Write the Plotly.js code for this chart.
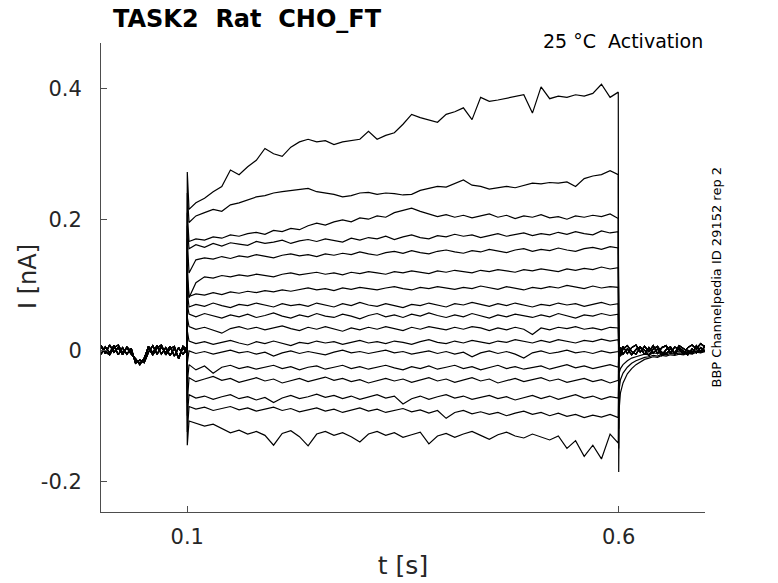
<!DOCTYPE html>
<html>
<head>
<meta charset="utf-8">
<script src="https://cdn.plot.ly/plotly-3.0.1.min.js"></script>
<style>html,body{margin:0;padding:0;background:#fff;}#chart{width:778px;height:583px;}</style>
</head>
<body>
<div id="chart"></div>
<script>
// ---- time grids (s) ----
var tPre = [0, 0.005, 0.01, 0.015, 0.02, 0.025, 0.03, 0.035, 0.04, 0.045, 0.05, 0.055, 0.06, 0.065, 0.07, 0.075, 0.08, 0.085, 0.09, 0.095, 0.0995];
var tOn = 0.1;
var tStep = [0.102, 0.11, 0.12, 0.13, 0.14, 0.15, 0.16, 0.17, 0.18, 0.19, 0.20, 0.21, 0.22, 0.23, 0.24, 0.25, 0.26, 0.27, 0.28, 0.29, 0.30, 0.31, 0.32, 0.33, 0.34, 0.35, 0.36, 0.37, 0.38, 0.39, 0.40, 0.41, 0.42, 0.43, 0.44, 0.45, 0.46, 0.47, 0.48, 0.49, 0.50, 0.51, 0.52, 0.53, 0.54, 0.55, 0.56, 0.57, 0.58, 0.59, 0.5995];
var tOff = 0.6;
var tPost = [0.6005, 0.602, 0.605, 0.61, 0.615, 0.62, 0.625, 0.63, 0.635, 0.64, 0.645, 0.65, 0.655, 0.66, 0.665, 0.67, 0.675, 0.68, 0.685, 0.69, 0.695, 0.70];

// ---- holding-current baselines (nA) ----
var preA = [0.006, -0.005, 0.008, -0.003, 0.004, -0.007, 0.005, -0.002, -0.016, -0.020, -0.014, 0.006, -0.004, 0.007, -0.006, 0.004, -0.008, 0.003, -0.012, 0.006, 0.001];
var preB = [-0.006, 0.005, -0.004, 0.007, -0.007, 0.004, -0.006, 0.003, -0.020, -0.015, -0.019, -0.003, 0.007, -0.006, 0.005, -0.004, 0.006, -0.009, 0.004, -0.007, 0.004];
var preC = [0.007, -0.002, -0.007, 0.004, 0.008, -0.004, 0.004, -0.006, -0.013, -0.022, -0.012, 0.003, -0.007, 0.003, 0.008, -0.007, 0.002, 0.006, -0.013, 0.004, -0.005];

var postA = [0.007, -0.004, 0.006, -0.005, 0.004, 0.008, -0.003, 0.006, -0.002, 0.007, -0.005, 0.004, 0.007, -0.004, 0.005, 0.001, -0.006, 0.004, 0.008, 0.002, 0.010, 0.005];
var postB = [-0.007, 0.004, -0.006, 0.002, -0.007, 0.001, 0.005, -0.007, 0.004, -0.004, 0.002, -0.008, 0.001, 0.005, -0.006, 0.004, -0.002, -0.007, 0.002, -0.004, 0.004, -0.002];
var postC = [0.001, -0.009, 0.002, 0.007, -0.002, -0.006, 0.004, 0.000, -0.008, 0.002, 0.006, -0.004, -0.006, 0.002, -0.004, 0.007, 0.002, -0.002, -0.005, 0.007, -0.003, 0.007];
var tail1 = [-0.090, -0.065, -0.050, -0.036, -0.028, -0.022, -0.018, -0.014, -0.012, -0.010, -0.011, -0.008, -0.009, -0.007, -0.008, -0.006, -0.007, -0.005, -0.006, -0.003, -0.004, -0.002];
var tail2 = [-0.060, -0.045, -0.035, -0.026, -0.020, -0.016, -0.013, -0.011, -0.010, -0.008, -0.009, -0.006, -0.007, -0.005, -0.006, -0.004, -0.005, -0.003, -0.004, -0.001, -0.003, -0.001];
var tail3 = [-0.035, -0.028, -0.022, -0.016, -0.012, -0.010, -0.008, -0.006, -0.007, -0.004, -0.005, -0.003, -0.004, -0.002, -0.004, -0.001, -0.003, 0.000, -0.002, 0.001, -0.001, 0.002];

// ---- step currents, one array per sweep (nA) ----
var sweep01 = [0.215, 0.225, 0.232, 0.242, 0.250, 0.275, 0.268, 0.280, 0.290, 0.308, 0.300, 0.296, 0.310, 0.318, 0.322, 0.318, 0.320, 0.314, 0.318, 0.320, 0.322, 0.334, 0.322, 0.328, 0.332, 0.345, 0.360, 0.355, 0.352, 0.348, 0.360, 0.364, 0.370, 0.352, 0.386, 0.380, 0.382, 0.385, 0.387, 0.390, 0.362, 0.402, 0.384, 0.388, 0.386, 0.390, 0.388, 0.392, 0.406, 0.386, 0.394];
var sweep02 = [0.195, 0.205, 0.210, 0.215, 0.212, 0.222, 0.225, 0.230, 0.234, 0.236, 0.240, 0.242, 0.244, 0.246, 0.247, 0.242, 0.240, 0.238, 0.234, 0.236, 0.240, 0.241, 0.238, 0.240, 0.239, 0.237, 0.238, 0.244, 0.247, 0.250, 0.249, 0.254, 0.260, 0.252, 0.250, 0.246, 0.248, 0.250, 0.248, 0.252, 0.255, 0.254, 0.256, 0.255, 0.257, 0.250, 0.262, 0.266, 0.268, 0.274, 0.268];
var sweep03 = [0.166, 0.170, 0.168, 0.173, 0.171, 0.176, 0.174, 0.178, 0.180, 0.177, 0.183, 0.181, 0.186, 0.184, 0.190, 0.194, 0.191, 0.196, 0.199, 0.196, 0.202, 0.200, 0.205, 0.203, 0.210, 0.213, 0.217, 0.212, 0.208, 0.204, 0.207, 0.203, 0.206, 0.202, 0.205, 0.208, 0.203, 0.206, 0.201, 0.205, 0.203, 0.207, 0.202, 0.204, 0.200, 0.205, 0.203, 0.206, 0.204, 0.208, 0.201];
var sweep04 = [0.155, 0.161, 0.157, 0.163, 0.159, 0.164, 0.162, 0.160, 0.166, 0.163, 0.165, 0.168, 0.163, 0.167, 0.169, 0.166, 0.170, 0.167, 0.165, 0.171, 0.168, 0.172, 0.170, 0.174, 0.169, 0.173, 0.176, 0.172, 0.170, 0.175, 0.173, 0.177, 0.174, 0.176, 0.172, 0.175, 0.178, 0.174, 0.177, 0.179, 0.175, 0.178, 0.176, 0.180, 0.177, 0.181, 0.178, 0.176, 0.182, 0.179, 0.181];
var sweep05 = [0.118, 0.138, 0.141, 0.139, 0.143, 0.140, 0.144, 0.142, 0.146, 0.143, 0.141, 0.145, 0.147, 0.144, 0.146, 0.143, 0.147, 0.145, 0.148, 0.146, 0.150, 0.147, 0.145, 0.149, 0.151, 0.148, 0.152, 0.149, 0.147, 0.151, 0.153, 0.150, 0.148, 0.152, 0.150, 0.154, 0.151, 0.149, 0.153, 0.155, 0.151, 0.154, 0.152, 0.156, 0.153, 0.151, 0.155, 0.157, 0.154, 0.158, 0.156];
var sweep06 = [0.080, 0.103, 0.112, 0.110, 0.114, 0.112, 0.115, 0.113, 0.116, 0.114, 0.112, 0.116, 0.118, 0.115, 0.117, 0.119, 0.116, 0.118, 0.115, 0.119, 0.117, 0.120, 0.118, 0.116, 0.120, 0.118, 0.121, 0.119, 0.117, 0.121, 0.119, 0.122, 0.120, 0.118, 0.122, 0.120, 0.123, 0.121, 0.119, 0.123, 0.121, 0.124, 0.122, 0.120, 0.124, 0.122, 0.125, 0.123, 0.127, 0.124, 0.126];
var sweep07 = [0.082, 0.086, 0.084, 0.088, 0.085, 0.089, 0.087, 0.090, 0.088, 0.091, 0.089, 0.092, 0.090, 0.093, 0.095, 0.092, 0.094, 0.091, 0.095, 0.093, 0.096, 0.094, 0.092, 0.095, 0.097, 0.094, 0.092, 0.096, 0.094, 0.097, 0.095, 0.093, 0.096, 0.094, 0.098, 0.095, 0.093, 0.097, 0.095, 0.092, 0.096, 0.094, 0.097, 0.095, 0.099, 0.096, 0.094, 0.098, 0.095, 0.097, 0.096];
var sweep08 = [0.066, 0.070, 0.067, 0.072, 0.068, 0.065, 0.070, 0.068, 0.072, 0.069, 0.066, 0.071, 0.068, 0.070, 0.067, 0.072, 0.069, 0.066, 0.071, 0.068, 0.073, 0.069, 0.067, 0.071, 0.068, 0.065, 0.070, 0.068, 0.072, 0.069, 0.066, 0.071, 0.069, 0.073, 0.070, 0.067, 0.071, 0.068, 0.072, 0.069, 0.066, 0.070, 0.068, 0.072, 0.069, 0.071, 0.067, 0.070, 0.073, 0.069, 0.071];
var sweep09 = [0.055, 0.051, 0.056, 0.052, 0.049, 0.054, 0.051, 0.055, 0.050, 0.053, 0.057, 0.052, 0.049, 0.054, 0.051, 0.056, 0.052, 0.050, 0.055, 0.052, 0.048, 0.053, 0.056, 0.051, 0.054, 0.050, 0.055, 0.052, 0.057, 0.053, 0.050, 0.054, 0.051, 0.056, 0.052, 0.049, 0.054, 0.051, 0.055, 0.052, 0.050, 0.054, 0.051, 0.056, 0.053, 0.049, 0.054, 0.052, 0.056, 0.053, 0.055];
var sweep10 = [0.036, 0.032, 0.035, 0.030, 0.026, 0.033, 0.036, 0.032, 0.035, 0.031, 0.034, 0.037, 0.033, 0.030, 0.035, 0.032, 0.036, 0.033, 0.029, 0.034, 0.031, 0.035, 0.032, 0.036, 0.033, 0.030, 0.035, 0.032, 0.036, 0.033, 0.031, 0.035, 0.032, 0.036, 0.034, 0.030, 0.034, 0.031, 0.035, 0.032, 0.024, 0.034, 0.031, 0.035, 0.033, 0.036, 0.032, 0.034, 0.031, 0.035, 0.034];
var sweep11 = [0.014, 0.010, 0.013, 0.009, 0.012, 0.015, 0.011, 0.008, 0.013, 0.010, 0.014, 0.011, 0.007, 0.012, 0.010, 0.014, 0.011, 0.013, 0.009, 0.012, 0.015, 0.011, 0.013, 0.010, 0.014, 0.012, 0.009, 0.013, 0.016, 0.012, 0.010, 0.014, 0.011, 0.015, 0.013, 0.010, 0.014, 0.012, 0.016, 0.013, 0.011, 0.015, 0.012, 0.016, 0.013, 0.011, 0.015, 0.013, 0.017, 0.014, 0.016];
var sweep12 = [-0.001, -0.005, -0.002, -0.006, -0.003, 0.000, -0.004, -0.002, -0.006, -0.003, -0.009, -0.004, -0.001, -0.005, -0.002, -0.004, -0.007, -0.003, 0.000, -0.004, -0.002, -0.005, -0.003, 0.000, -0.004, -0.002, -0.006, -0.003, -0.001, -0.005, -0.002, -0.006, -0.003, -0.010, -0.004, -0.001, -0.005, -0.002, -0.006, -0.012, -0.004, -0.001, -0.005, -0.003, 0.000, -0.004, -0.002, -0.005, -0.001, -0.004, -0.002];
var sweep13 = [-0.022, -0.030, -0.024, -0.035, -0.026, -0.023, -0.028, -0.025, -0.029, -0.026, -0.023, -0.028, -0.025, -0.030, -0.026, -0.024, -0.029, -0.026, -0.023, -0.028, -0.025, -0.029, -0.026, -0.023, -0.027, -0.030, -0.025, -0.028, -0.024, -0.029, -0.026, -0.023, -0.028, -0.025, -0.030, -0.026, -0.023, -0.028, -0.025, -0.029, -0.026, -0.024, -0.029, -0.025, -0.022, -0.027, -0.024, -0.028, -0.025, -0.022, -0.026];
var sweep14 = [-0.042, -0.048, -0.044, -0.040, -0.046, -0.043, -0.049, -0.045, -0.042, -0.047, -0.044, -0.050, -0.046, -0.043, -0.048, -0.045, -0.041, -0.046, -0.043, -0.048, -0.045, -0.050, -0.046, -0.043, -0.047, -0.044, -0.049, -0.046, -0.042, -0.047, -0.044, -0.049, -0.045, -0.042, -0.047, -0.044, -0.050, -0.046, -0.043, -0.048, -0.045, -0.042, -0.047, -0.044, -0.049, -0.046, -0.043, -0.048, -0.045, -0.050, -0.046];
var sweep15 = [-0.068, -0.073, -0.070, -0.075, -0.071, -0.068, -0.074, -0.071, -0.076, -0.072, -0.080, -0.073, -0.069, -0.074, -0.071, -0.067, -0.072, -0.069, -0.074, -0.070, -0.075, -0.072, -0.068, -0.073, -0.070, -0.082, -0.074, -0.070, -0.075, -0.071, -0.068, -0.073, -0.070, -0.075, -0.072, -0.069, -0.074, -0.071, -0.076, -0.072, -0.069, -0.074, -0.070, -0.075, -0.072, -0.068, -0.073, -0.070, -0.075, -0.071, -0.073];
var sweep16 = [-0.086, -0.090, -0.087, -0.092, -0.089, -0.086, -0.091, -0.088, -0.093, -0.090, -0.087, -0.092, -0.089, -0.094, -0.091, -0.088, -0.093, -0.090, -0.095, -0.091, -0.088, -0.093, -0.090, -0.095, -0.092, -0.089, -0.094, -0.091, -0.096, -0.092, -0.104, -0.095, -0.092, -0.097, -0.094, -0.098, -0.095, -0.100, -0.096, -0.093, -0.098, -0.095, -0.100, -0.096, -0.101, -0.098, -0.103, -0.099, -0.102, -0.098, -0.103];
var sweep17 = [-0.108, -0.112, -0.116, -0.113, -0.120, -0.126, -0.122, -0.128, -0.124, -0.130, -0.145, -0.127, -0.123, -0.132, -0.146, -0.128, -0.124, -0.130, -0.126, -0.132, -0.140, -0.128, -0.124, -0.130, -0.126, -0.133, -0.129, -0.125, -0.143, -0.131, -0.127, -0.133, -0.128, -0.124, -0.130, -0.136, -0.129, -0.125, -0.131, -0.134, -0.128, -0.133, -0.137, -0.131, -0.150, -0.138, -0.162, -0.145, -0.166, -0.128, -0.142];

// capacitive transient peaks at step onset / offset (nA)
var onPeak  = [0.272, 0.240, 0.210, 0.190, 0.170, 0.130, 0.110, 0.090, 0.070, 0.050, 0.030, -0.020, -0.050, -0.080, -0.100, -0.125, -0.145];
var offPeak = [-0.186, -0.150, -0.120, 0.002, -0.003, 0.001, 0.003, -0.002, 0.000, 0.002, -0.001, 0.001, -0.004, -0.006, -0.008, -0.010, -0.012];

var sweeps = [sweep01, sweep02, sweep03, sweep04, sweep05, sweep06, sweep07, sweep08, sweep09, sweep10, sweep11, sweep12, sweep13, sweep14, sweep15, sweep16, sweep17];
var pres = [preA, preB, preC];
var posts = [postA, postB, postC];
var tails = [tail1, tail2, tail3];

var xs = [].concat(tPre, [tOn], tStep, [tOff], tPost);
var traces = sweeps.map(function (s, i) {
  var post = i < 3 ? tails[i] : posts[i % 3];
  return {
    type: 'scatter', mode: 'lines',
    x: xs,
    y: [].concat(pres[i % 3], [onPeak[i]], s, [offPeak[i]], post),
    line: {color: '#000000', width: 1.2},
    hoverinfo: 'skip', showlegend: false
  };
});

var FONT = 'DejaVu Sans, sans-serif';
var layout = {
  width: 778, height: 583,
  paper_bgcolor: '#ffffff', plot_bgcolor: '#ffffff',
  margin: {l: 101, r: 73, t: 43, b: 71, pad: 0},
  showlegend: false,
  title: {
    text: 'TASK2\u00A0\u00A0Rat\u00A0\u00A0CHO_FT',
    font: {family: FONT, size: 24, color: '#000000', weight: 'bold'},
    xref: 'container', yref: 'container',
    x: 113 / 778, xanchor: 'left', y: 1 - 19 / 583, yanchor: 'middle'
  },
  xaxis: {
    range: [0, 0.7], autorange: false,
    tickvals: [0.1, 0.6], ticktext: ['0.1', '0.6'],
    ticks: 'inside', ticklen: 6, tickwidth: 1, tickcolor: '#4d4d4d',
    showline: true, linecolor: '#4d4d4d', linewidth: 1,
    showgrid: false, zeroline: false, mirror: false,
    tickfont: {family: FONT, size: 21, color: '#262626'},
    ticklabelstandoff: 6,
    title: {text: 't [s]', font: {family: FONT, size: 25, color: '#262626'}, standoff: 8}
  },
  yaxis: {
    range: [-0.247, 0.469], autorange: false,
    tickvals: [-0.2, 0, 0.2, 0.4], ticktext: ['-0.2', '0', '0.2', '0.4'],
    ticks: 'inside', ticklen: 6, tickwidth: 1, tickcolor: '#4d4d4d',
    showline: true, linecolor: '#4d4d4d', linewidth: 1,
    showgrid: false, zeroline: false, mirror: false,
    tickfont: {family: FONT, size: 21, color: '#262626'},
    ticklabelstandoff: 14
  },
  annotations: [
    {
      text: 'I [nA]', xref: 'paper', yref: 'paper',
      x: (28 - 101) / 604, xanchor: 'center', y: (512 - 277) / 469, yanchor: 'middle',
      textangle: -90, showarrow: false, font: {family: FONT, size: 24, color: '#262626'}
    },
    {
      text: '25 \u00B0C\u00A0\u00A0Activation', xref: 'paper', yref: 'paper',
      x: 1, xanchor: 'right', y: (512 - 41) / 469, yanchor: 'middle',
      showarrow: false, font: {family: FONT, size: 19, color: '#000000'}
    },
    {
      text: 'BBP Channelpedia ID 29152 rep 2', xref: 'paper', yref: 'paper',
      x: (716 - 101) / 604, xanchor: 'center', y: 0.5, yanchor: 'middle',
      textangle: -90, showarrow: false, font: {family: FONT, size: 13, color: '#000000'}
    }
  ]
};

Plotly.newPlot('chart', traces, layout, {displayModeBar: false, staticPlot: true});
</script>
</body>
</html>
